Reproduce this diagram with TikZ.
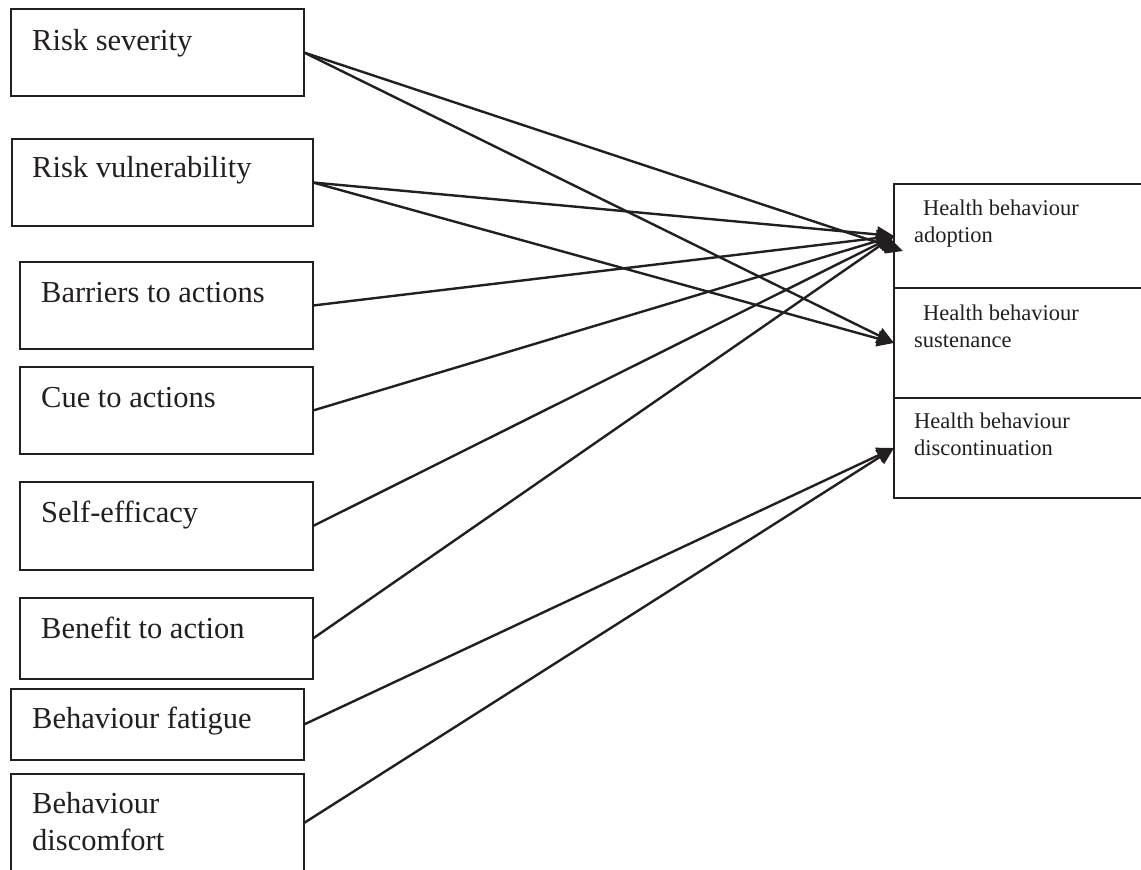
\documentclass[tikz,border=0pt]{standalone}
\usepackage{fontspec}
\setmainfont{Liberation Serif}
\usetikzlibrary{arrows.meta}
\definecolor{ink}{HTML}{231F20}
\tikzset{
  box/.style={draw=ink, line width=1.8pt, anchor=north west, inner sep=0pt, outer sep=0pt},
  lefttext/.style={anchor=base west, inner sep=0pt, text=ink, font=\fontsize{30.5}{37}\selectfont},
  righttext/.style={anchor=base west, inner sep=0pt, text=ink, font=\fontsize{22.5}{27}\selectfont},
  link/.style={draw=ink, line width=2.4pt, -{Triangle[length=17pt,width=16pt]}}
}
\begin{document}
\begin{tikzpicture}[x=1pt,y=-1pt]
\useasboundingbox (0,0) rectangle (1141,870);
\clip (0,0) rectangle (1141,870);

% factor boxes on the left
\node[box, minimum width=293pt, minimum height=87pt] (sev)  at (11,9)   {};
\node[box, minimum width=301pt, minimum height=87pt] (vul)  at (12,139) {};
\node[box, minimum width=293pt, minimum height=87pt] (bar)  at (20,262) {};
\node[box, minimum width=293pt, minimum height=87pt] (cue)  at (20,367) {};
\node[box, minimum width=293pt, minimum height=88pt] (self) at (20,482) {};
\node[box, minimum width=293pt, minimum height=81pt] (ben)  at (20,598) {};
\node[box, minimum width=293pt, minimum height=71pt] (fat)  at (11,689) {};
\node[box, minimum width=293pt, minimum height=98pt] (dis)  at (11,774) {};

\node[lefttext] (tsev)  at (32,50)  {Risk severity};
\node[lefttext] (tvul)  at (32,177) {Risk vulnerability};
\node[lefttext] (tbar)  at (41,302) {Barriers to actions};
\node[lefttext] (tcue)  at (41,407) {Cue to actions};
\node[lefttext] (tself) at (41,522) {Self-efficacy};
\node[lefttext] (tben)  at (41,638) {Benefit to action};
\node[lefttext] (tfat)  at (32,728) {Behaviour fatigue};
\node[lefttext] (tdisa) at (32,813) {Behaviour};
\node[lefttext] (tdisb) at (32,850) {discomfort};

% outcome boxes on the right
\node[box, minimum width=262pt, minimum height=104pt] (adopt) at (894,184) {};
\node[box, minimum width=262pt, minimum height=110pt] (sust)  at (894,288) {};
\node[box, minimum width=262pt, minimum height=100pt] (disc)  at (894,398) {};

\node[righttext] (tadopta) at (923,215) {Health behaviour};
\node[righttext] (tadoptb) at (914,242) {adoption};
\node[righttext] (tsusta)  at (923,320) {Health behaviour};
\node[righttext] (tsustb)  at (914,347) {sustenance};
\node[righttext] (tdisca)  at (914,428) {Health behaviour};
\node[righttext] (tdiscb)  at (914,455) {discontinuation};

\coordinate (adoptlow) at (903,251);

% paths of influence
\draw[link] (sev.east)  -- (adoptlow);
\draw[link] (sev.east)  -- (sust.west);
\draw[link] (vul.east)  -- (adopt.west);
\draw[link] (vul.east)  -- (sust.west);
\draw[link] (bar.east)  -- (adopt.west);
\draw[link] (cue.east)  -- (adopt.west);
\draw[link] (self.east) -- (adopt.west);
\draw[link] (ben.east)  -- (adopt.west);
\draw[link] (fat.east)  -- (disc.west);
\draw[link] (dis.east)  -- (disc.west);
\end{tikzpicture}
\end{document}
